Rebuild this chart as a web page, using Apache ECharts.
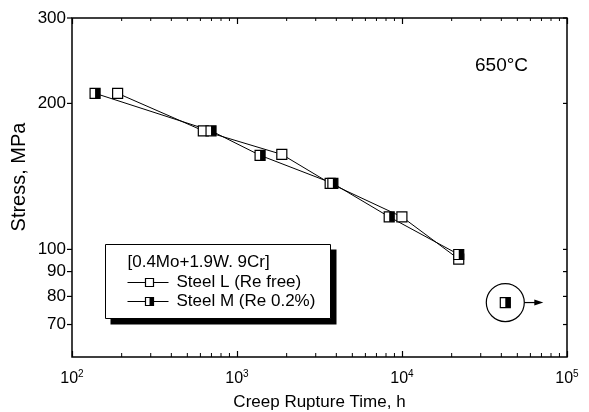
<!DOCTYPE html>
<html>
<head>
<meta charset="utf-8">
<script src="https://cdn.jsdelivr.net/npm/echarts/dist/echarts.min.js"></script>
<style>
  html, body { margin: 0; padding: 0; background: #fff; }
  #chart { width: 589px; height: 412px; }
</style>
</head>
<body>
<div id="chart"></div>
<script>
// Creep rupture data at 650 °C (time in hours, stress in MPa)
const steelLTime   = [189, 625, 1869, 3670, 9986, 22070];
const steelLStress = [209.8, 175.6, 157.0, 136.8, 116.7, 95.5];
const steelMTime   = [138, 696, 1380, 3811, 8364, 22070];
const steelMStress = [209.8, 175.6, 156.3, 136.8, 116.7, 97.6];
// Unbroken specimen (test still running)
const runoutTime   = [42270];
const runoutStress = [77.7];

const seriesNames = ['Steel L (Re free)', 'Steel M (Re 0.2%)'];
const legendTitle = '[0.4Mo+1.9W. 9Cr]';
const tempLabel = '650°C';
const xAxisName = 'Creep Rupture Time, h';
const yAxisName = 'Stress, MPa';

const yTickValues = [70, 80, 90, 100, 200, 300];
const xMinorTicks = [200, 300, 400, 500, 600, 700, 800, 900,
                     2000, 3000, 4000, 5000, 6000, 7000, 8000, 9000,
                     20000, 30000, 40000, 50000, 60000, 70000, 80000, 90000];

const X_MIN = 100, X_MAX = 100000, Y_MIN = 60, Y_MAX = 300;
const FONT = 'Liberation Sans, Arial, Helvetica, sans-serif';
const pairs = (xs, ys) => xs.map((x, i) => [x, ys[i]]);

const MS = 10; // marker size

function openSquare(cx, cy, s) {
  return { type: 'rect', shape: { x: cx - s / 2, y: cy - s / 2, width: s, height: s },
           style: { fill: '#fff', stroke: '#000', lineWidth: 1.2 } };
}
function halfSquare(cx, cy, s) {
  return { type: 'group', children: [
    openSquare(cx, cy, s),
    { type: 'rect', shape: { x: cx, y: cy - s / 2, width: s / 2, height: s }, style: { fill: '#000' } }
  ] };
}

const chart = echarts.init(document.getElementById('chart'), null, { renderer: 'canvas' });

const option = {
  animation: false,
  backgroundColor: '#fff',
  textStyle: { fontFamily: FONT, color: '#000' },
  grid: { left: 72, right: 22, top: 18, bottom: 55, containLabel: false, outerBoundsMode: 'none',
          show: true, borderColor: '#000', borderWidth: 1.5, backgroundColor: 'transparent' },
  xAxis: [
    {
      type: 'log', logBase: 10, min: X_MIN, max: X_MAX, position: 'bottom',
      name: xAxisName, nameLocation: 'middle', nameGap: 37,
      nameTextStyle: { fontSize: 17, color: '#000', fontFamily: FONT },
      axisLine: { show: false },
      axisTick: { show: true, inside: true, length: 6, lineStyle: { color: '#000', width: 1.2 } },
      splitLine: { show: false },
      minorTick: { show: false },
      axisLabel: {
        margin: 12, color: '#000', fontFamily: FONT,
        formatter: v => '{b|10}{s|' + Math.round(Math.log10(v)) + '}',
        rich: {
          b: { fontSize: 16, fontFamily: FONT, color: '#000', verticalAlign: 'bottom', lineHeight: 18 },
          s: { fontSize: 10, fontFamily: FONT, color: '#000', verticalAlign: 'top', lineHeight: 18 }
        }
      }
    },
    {
      type: 'log', logBase: 10, min: X_MIN, max: X_MAX, position: 'top',
      axisLine: { show: false },
      axisTick: { show: true, inside: true, length: 6, lineStyle: { color: '#000', width: 1.2 } },
      axisLabel: { show: false }, splitLine: { show: false }
    }
  ],
  yAxis: {
    type: 'log', logBase: 10, min: Y_MIN, max: Y_MAX,
    axisLine: { show: false }, axisTick: { show: false }, axisLabel: { show: false },
    splitLine: { show: false }
  },
  graphic: [
    // vertical axis title
    { type: 'text', x: 19, y: 177, rotation: Math.PI / 2, z: 10,
      style: { text: yAxisName, font: '20px ' + FONT, fill: '#000', align: 'center', verticalAlign: 'middle' } },
    // temperature label
    { type: 'text', left: 475, top: 56, z: 10,
      style: { text: tempLabel, font: '19px ' + FONT, fill: '#000' } },
    // legend panel with drop shadow
    { type: 'group', left: 105, top: 244, z: 20, children: [
      { type: 'rect', shape: { x: 5, y: 5, width: 226, height: 75 }, style: { fill: '#000' } },
      { type: 'rect', shape: { x: 0, y: 0, width: 225, height: 74 }, style: { fill: '#fff', stroke: '#000', lineWidth: 1 } },
      { type: 'text', style: { x: 22, y: 18, text: legendTitle, font: '17px ' + FONT, fill: '#000', verticalAlign: 'middle' } },
      { type: 'line', shape: { x1: 22, y1: 38, x2: 63, y2: 38 }, style: { stroke: '#000', lineWidth: 1 } },
      openSquare(44, 38, 8),
      { type: 'text', style: { x: 71, y: 38, text: seriesNames[0], font: '17px ' + FONT, fill: '#000', verticalAlign: 'middle' } },
      { type: 'line', shape: { x1: 22, y1: 57, x2: 63, y2: 57 }, style: { stroke: '#000', lineWidth: 1 } },
      halfSquare(44, 57, 8),
      { type: 'text', style: { x: 71, y: 57, text: seriesNames[1], font: '17px ' + FONT, fill: '#000', verticalAlign: 'middle' } }
    ] }
  ],
  series: [
    { name: seriesNames[0], type: 'line', data: pairs(steelLTime, steelLStress), symbol: 'none',
      lineStyle: { color: '#000', width: 1 }, z: 2 },
    { name: seriesNames[1], type: 'line', data: pairs(steelMTime, steelMStress), symbol: 'none',
      lineStyle: { color: '#000', width: 1 }, z: 2 },
    { name: seriesNames[0] + ' marks', type: 'custom', data: pairs(steelLTime, steelLStress), z: 3,
      renderItem: (params, api) => {
        const p = api.coord([api.value(0), api.value(1)]);
        return openSquare(p[0], p[1], MS);
      } },
    { name: seriesNames[1] + ' marks', type: 'custom', data: pairs(steelMTime, steelMStress), z: 4,
      renderItem: (params, api) => {
        const p = api.coord([api.value(0), api.value(1)]);
        return halfSquare(p[0], p[1], MS);
      } },
    { name: 'runout', type: 'custom', data: pairs(runoutTime, runoutStress), z: 4,
      renderItem: (params, api) => {
        const p = api.coord([api.value(0), api.value(1)]);
        const r = 19;
        return { type: 'group', children: [
          { type: 'circle', shape: { cx: p[0], cy: p[1], r: r }, style: { fill: 'none', stroke: '#000', lineWidth: 1.2 } },
          halfSquare(p[0], p[1], MS),
          { type: 'line', shape: { x1: p[0] + r, y1: p[1], x2: p[0] + r + 12, y2: p[1] }, style: { stroke: '#000', lineWidth: 1.2 } },
          { type: 'polygon', shape: { points: [[p[0] + r + 19, p[1]], [p[0] + r + 10, p[1] - 3], [p[0] + r + 10, p[1] + 3]] }, style: { fill: '#000' } }
        ] };
      } },
    // minor ticks along the bottom and top frame
    { name: 'x minor ticks', type: 'custom', data: xMinorTicks.map(v => [v, Y_MIN]), z: 5, silent: true,
      renderItem: (params, api) => {
        const b = api.coord([api.value(0), Y_MIN]);
        const t = api.coord([api.value(0), Y_MAX]);
        return { type: 'group', children: [
          { type: 'line', shape: { x1: b[0], y1: b[1], x2: b[0], y2: b[1] - 4 }, style: { stroke: '#000', lineWidth: 1 } },
          { type: 'line', shape: { x1: t[0], y1: t[1], x2: t[0], y2: t[1] + 3 }, style: { stroke: '#000', lineWidth: 1 } }
        ] };
      } },
    // stress ticks and labels (left outside, right inside)
    { name: 'y ticks', type: 'custom', data: yTickValues.map(v => [X_MIN, v]), z: 5, silent: true,
      renderItem: (params, api) => {
        const v = api.value(1);
        const l = api.coord([X_MIN, v]);
        const r = api.coord([X_MAX, v]);
        return { type: 'group', children: [
          { type: 'line', shape: { x1: l[0] - 5, y1: l[1], x2: l[0], y2: l[1] }, style: { stroke: '#000', lineWidth: 1.2 } },
          { type: 'line', shape: { x1: r[0] - 4, y1: r[1], x2: r[0], y2: r[1] }, style: { stroke: '#000', lineWidth: 1.2 } },
          { type: 'text', style: { x: l[0] - 6, y: l[1], text: String(v), font: '17px ' + FONT, fill: '#000', align: 'right', verticalAlign: 'middle' } }
        ] };
      } }
  ]
};

chart.setOption(option);
</script>
</body>
</html>
